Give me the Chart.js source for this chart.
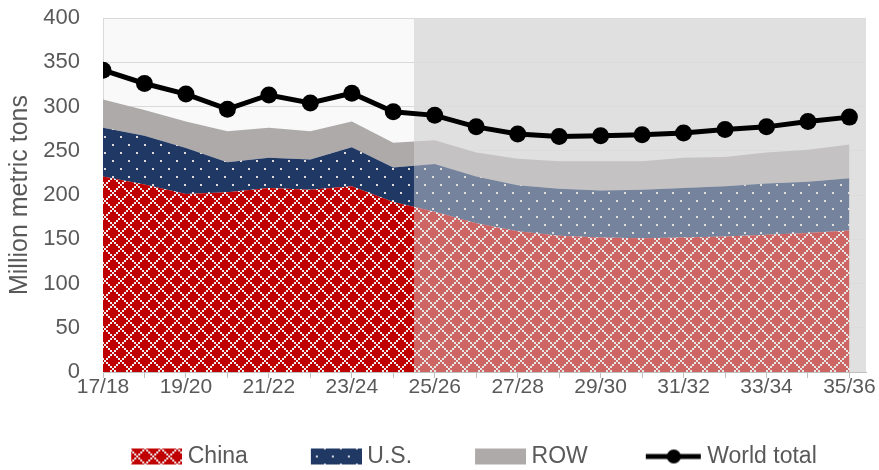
<!DOCTYPE html>
<html>
<head>
<meta charset="utf-8">
<script src="https://cdn.jsdelivr.net/npm/chart.js@4.4.1/dist/chart.umd.min.js"></script>
<style>
  html, body { margin: 0; padding: 0; background: #fff; }
</style>
</head>
<body>
<canvas id="chart" width="879" height="470"></canvas>
<script>
// marketing years and series, million metric tons
var years = ["17/18", "18/19", "19/20", "20/21", "21/22", "22/23", "23/24", "24/25", "25/26", "26/27",
             "27/28", "28/29", "29/30", "30/31", "31/32", "32/33", "33/34", "34/35", "35/36"];
var china = [221, 212, 201, 203, 208, 206, 210, 192, 181, 168, 159, 154, 152, 151, 152, 153, 155, 157, 160];
var us    = [55, 55, 52, 34, 34, 34, 44, 39, 54, 53, 52, 53, 53, 55, 56, 57, 58, 58, 59];
var row   = [32, 29, 30, 35, 34, 32, 29, 28, 27, 27, 30, 31, 33, 32, 34, 33, 35, 36, 38];
var world = [341, 326, 314, 297, 313, 304, 315, 294, 290, 277, 269, 266, 267, 268, 270, 274, 277, 283, 288];
var projStart = 7.5; // projections begin between 24/25 and 25/26

var grey = "#595959";
var fontFam = "'Liberation Sans', Arial, sans-serif";

function pts(arr) {
  return arr.map(function(v, i) { return { x: i, y: v }; });
}

// 8x8 office style patterns scaled by 2
function chinaTile() {
  var c = document.createElement("canvas");
  c.width = 16; c.height = 16;
  var g = c.getContext("2d");
  g.fillStyle = "#c00000";
  g.fillRect(0, 0, 16, 16);
  g.fillStyle = "#ececec";
  for (var i = 0; i < 8; i++) {
    g.fillRect(i * 2, i * 2, 2, 2);
    g.fillRect(((8 - i) % 8) * 2, i * 2, 2, 2);
  }
  return c;
}
function usTile() {
  var c = document.createElement("canvas");
  c.width = 16; c.height = 16;
  var g = c.getContext("2d");
  g.fillStyle = "#203864";
  g.fillRect(0, 0, 16, 16);
  g.fillStyle = "#dcdcdc";
  g.fillRect(0, 0, 2, 2);
  g.fillRect(8, 8, 2, 2);
  return c;
}

var cctx = document.getElementById("chart").getContext("2d");
var chinaFill = cctx.createPattern(chinaTile(), "repeat");
var usFill = cctx.createPattern(usTile(), "repeat");
var rowFill = "#aeaaaa";

// legend icons
var boxW = 106;
function legendIcon(fill, isLine) {
  var c = document.createElement("canvas");
  c.width = boxW + 12; c.height = 18;
  var g = c.getContext("2d");
  if (isLine) {
    g.strokeStyle = "#000";
    g.lineWidth = 5;
    g.beginPath();
    g.moveTo(c.width - 56, 9);
    g.lineTo(c.width - 1, 9);
    g.stroke();
    g.fillStyle = "#000";
    g.beginPath();
    g.arc(c.width - 28, 9, 7, 0, Math.PI * 2);
    g.fill();
  } else {
    g.fillStyle = fill;
    g.fillRect(c.width - 51, 1, 51, 16);
  }
  return c;
}
var icons = [legendIcon(chinaFill), legendIcon(usFill), legendIcon(rowFill), legendIcon(null, true)];

var shading = {
  id: "shading",
  beforeDraw: function(chart) {
    var a = chart.chartArea, g = chart.ctx;
    var xs = chart.scales.x.getPixelForValue(projStart);
    g.save();
    g.fillStyle = "#f9f9f9";
    g.fillRect(a.left, a.top, xs - a.left, a.bottom - a.top);
    g.fillStyle = "#e0e0e0";
    g.fillRect(xs, a.top, a.right - xs, a.bottom - a.top);
    g.restore();
  },
  beforeDatasetDraw: function(chart, args) {
    if (args.index !== 3) return;
    var a = chart.chartArea, g = chart.ctx;
    var xs = chart.scales.x.getPixelForValue(projStart);
    g.save();
    g.fillStyle = "rgba(224,224,224,0.45)";
    g.fillRect(xs, a.top, a.right - xs, a.bottom - a.top);
    g.restore();
  }
};

var data = {
  datasets: [
    {
      label: "China",
      data: pts(china),
      stack: "areas",
      fill: "origin",
      backgroundColor: chinaFill,
      borderWidth: 0,
      pointRadius: 0,
      order: 1
    },
    {
      label: "U.S.",
      data: pts(us),
      stack: "areas",
      fill: "-1",
      backgroundColor: usFill,
      borderWidth: 0,
      pointRadius: 0,
      order: 1
    },
    {
      label: "ROW",
      data: pts(row),
      stack: "areas",
      fill: "-1",
      backgroundColor: rowFill,
      borderWidth: 0,
      pointRadius: 0,
      order: 1
    },
    {
      label: "World total",
      data: pts(world),
      stack: "total",
      fill: false,
      borderColor: "#000",
      borderWidth: 5,
      pointRadius: 8.5,
      pointBackgroundColor: "#000",
      pointBorderWidth: 0,
      order: 0
    }
  ]
};

var options = {
  responsive: false,
  animation: false,
  devicePixelRatio: 1,
  lineTension: 0,
  layout: { autoPadding: false, padding: { left: 21, right: 13, top: 18, bottom: -8 } },
  plugins: {
    tooltip: { enabled: false },
    legend: {
      display: true,
      position: "bottom",
      labels: {
        usePointStyle: true,
        pointStyleWidth: boxW,
        padding: 2,
        color: grey,
        font: { family: fontFam, size: 23 },
        generateLabels: function(chart) {
          return chart.data.datasets.map(function(d, i) {
            return {
              text: d.label,
              pointStyle: icons[i],
              fillStyle: "transparent",
              strokeStyle: "transparent",
              lineWidth: 0,
              hidden: false,
              datasetIndex: i,
              fontColor: grey
            };
          });
        }
      }
    }
  },
  scales: {
    x: {
      type: "linear",
      min: 0,
      max: 18.4,
      afterBuildTicks: function(s) {
        s.ticks = years.map(function(_, i) { return { value: i }; });
      },
      afterFit: function(s) { s.height = 71; },
      ticks: {
        autoSkip: false,
        maxRotation: 0,
        padding: -3,
        color: grey,
        font: { family: fontFam, size: 21 },
        callback: function(v) { return v % 2 === 0 ? years[v] : ""; }
      },
      grid: { drawOnChartArea: false, tickLength: 6, color: "#bfbfbf" },
      border: { color: "#bfbfbf" }
    },
    y: {
      stacked: true,
      min: 0,
      max: 400,
      afterFit: function(s) {
        s.width = 82;
        s.paddingTop = 12;
        s.paddingBottom = 12;
      },
      ticks: {
        stepSize: 50,
        padding: 23,
        color: grey,
        font: { family: fontFam, size: 22 }
      },
      grid: { color: "#d9d9d9", drawTicks: false },
      border: { display: true, color: "#d9d9d9" },
      title: {
        display: true,
        text: "Million metric tons",
        color: grey,
        font: { family: fontFam, size: 25 },
        padding: { top: -16, bottom: 0 }
      }
    }
  }
};

var chart = new Chart(cctx, {
  type: "line",
  data: data,
  options: options,
  plugins: [shading]
});
</script>
</body>
</html>
